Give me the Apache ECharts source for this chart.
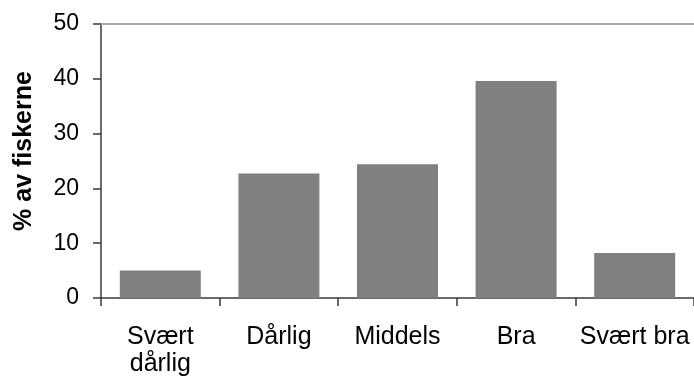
<!DOCTYPE html>
<html>
<head>
<meta charset="utf-8">
<script src="https://cdn.jsdelivr.net/npm/echarts@6/dist/echarts.min.js"></script>
<style>
html,body{margin:0;padding:0;background:#fff;}
#c{width:694px;height:378px;}
</style>
</head>
<body>
<div id="c"></div>
<script>
const categories = ['Svært\ndårlig', 'Dårlig', 'Middels', 'Bra', 'Svært bra'];
const values = [5.0, 22.7, 24.4, 39.6, 8.2];
const yTicks = { min: 0, max: 50, interval: 10 };
const yName = '% av fiskerne';

const FONT = '"Liberation Sans", Arial, sans-serif';
const chart = echarts.init(document.getElementById('c'), null, { renderer: 'canvas' });
chart.setOption({
  animation: false,
  backgroundColor: '#fff',
  grid: { left: 101, right: 0, top: 24, bottom: 79, containLabel: false },
  xAxis: [{
    type: 'category',
    data: categories,
    position: 'bottom',
    axisLine: { show: true, lineStyle: { color: '#3a3a3a', width: 1.5 } },
    axisTick: { show: true, alignWithLabel: false, interval: 0, length: 8, lineStyle: { color: '#3a3a3a', width: 1.5 } },
    axisLabel: { interval: 0, margin: 26, fontFamily: FONT, fontSize: 25, color: '#000', lineHeight: 27 },
    splitLine: { show: false }
  }, {
    type: 'category',
    data: categories,
    position: 'top',
    axisLine: { show: true, lineStyle: { color: '#a8a8a8', width: 2 } },
    axisTick: { show: false },
    axisLabel: { show: false },
    splitLine: { show: false }
  }],
  yAxis: {
    type: 'value',
    min: yTicks.min, max: yTicks.max, interval: yTicks.interval,
    name: yName,
    nameLocation: 'middle',
    nameGap: 64,
    nameRotate: 90,
    nameTextStyle: { fontFamily: FONT, fontSize: 25, fontWeight: 'bold', color: '#000', padding: [0, 0, 0, 20] },
    axisLine: { show: true, lineStyle: { color: '#3a3a3a', width: 1.5 } },
    axisTick: { show: true, length: 8, lineStyle: { color: '#3a3a3a', width: 1.5 } },
    axisLabel: { margin: 22, fontFamily: FONT, fontSize: 23, color: '#000' },
    splitLine: { show: false }
  },
  series: [{
    type: 'bar',
    data: values,
    xAxisIndex: 0,
    barWidth: 81,
    itemStyle: { color: '#808080' }
  }]
});
</script>
</body>
</html>
